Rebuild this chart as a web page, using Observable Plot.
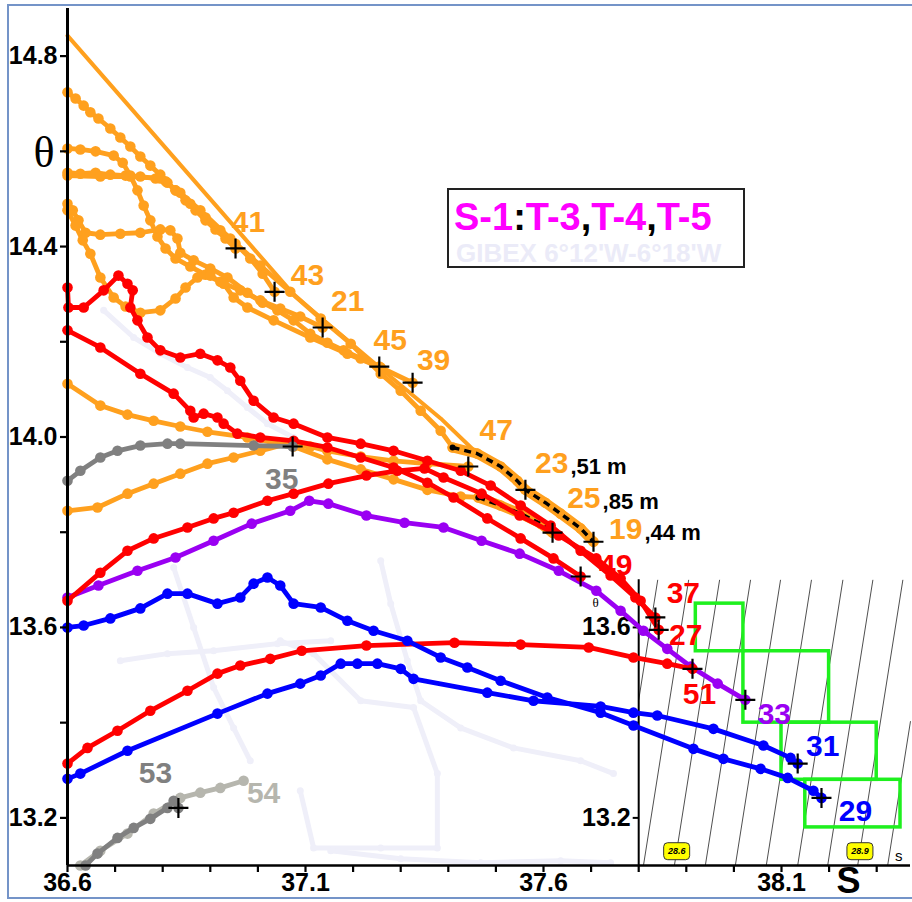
<!DOCTYPE html>
<html>
<head>
<meta charset="utf-8">
<script src="https://cdn.jsdelivr.net/npm/d3@7"></script>
<script src="https://cdn.jsdelivr.net/npm/@observablehq/plot@0.6"></script>
<style>
  body { margin: 0; background: #fff; }
  #wrap { position: relative; width: 912px; height: 902px; overflow: hidden; }
  #frame { position: absolute; left: 7px; top: 4px; width: 940px; height: 891px; border: 2px solid #7494c8; pointer-events: none; }
  #legend { position: absolute; left: 447px; top: 188px; width: 294px; height: 76px; border: 2px solid #222; background: #fff;
            font-family: "Liberation Sans", Arial, sans-serif; font-weight: bold; }
  #legend .l1 { position: absolute; left: 5px; top: 8px; font-size: 38px; line-height: 38px; color: #000; white-space: nowrap; }
  #legend .l1 span { color: #ff00ff; }
  #legend .l2 { position: absolute; left: 7px; top: 50px; font-size: 26px; line-height: 26px; color: #ebebf8; white-space: nowrap; }
</style>
</head>
<body>
<div id="wrap">
  <div id="chart"></div>
  <div id="legend">
    <div class="l1"><span>S-1</span>:<span>T-3</span>,<span>T-4</span>,<span>T-5</span></div>
    <div class="l2">GIBEX 6°12'W-6°18'W</div>
  </div>
  <div id="frame"></div>
</div>
<script>
// ---- θ–S profiles: [salinity, potential temperature] ----
const st41 = [[36.600,14.724],[36.617,14.711],[36.634,14.696],[36.648,14.682],[36.665,14.669],[36.690,14.648],[36.711,14.629],[36.732,14.610],[36.753,14.589],[36.774,14.570],[36.795,14.551],[36.810,14.534],[36.827,14.518],[36.848,14.497],[36.869,14.476],[36.890,14.455],[36.911,14.436],[36.932,14.417],[36.953,14.396]];
const st43 = [[36.600,14.555],[36.627,14.553],[36.659,14.555],[36.690,14.551],[36.722,14.549],[36.753,14.547],[36.785,14.543],[36.806,14.537],[36.827,14.518],[36.858,14.490],[36.890,14.461],[36.921,14.434],[36.953,14.406],[36.984,14.375],[37.010,14.343],[37.035,14.305]];
const st21 = [[36.600,14.606],[36.627,14.604],[36.659,14.600],[36.697,14.591],[36.716,14.576],[36.732,14.549],[36.747,14.518],[36.760,14.486],[36.774,14.455],[36.789,14.421],[36.806,14.396],[36.827,14.375],[36.858,14.358],[36.890,14.341],[36.921,14.326],[36.963,14.308],[37.005,14.287],[37.047,14.270],[37.089,14.253],[37.136,14.230]];
const st45 = [[36.600,14.490],[36.611,14.476],[36.623,14.455],[36.638,14.429],[36.669,14.425],[36.711,14.427],[36.753,14.429],[36.795,14.436],[36.816,14.434],[36.831,14.417],[36.837,14.387],[36.865,14.371],[36.900,14.354],[36.936,14.335],[36.978,14.303],[37.010,14.282],[37.041,14.266],[37.075,14.245],[37.110,14.217],[37.146,14.198],[37.180,14.182],[37.216,14.165],[37.255,14.148]];
const st39 = [[36.600,14.476],[36.617,14.444],[36.632,14.413],[36.648,14.385],[36.669,14.335],[36.697,14.293],[36.722,14.274],[36.753,14.261],[36.795,14.266],[36.827,14.291],[36.848,14.314],[36.873,14.335],[36.900,14.339],[36.928,14.322],[36.949,14.293],[36.978,14.272],[37.033,14.245],[37.110,14.209],[37.188,14.175],[37.258,14.146],[37.325,14.114]];
const st47 = [[36.600,13.845],[36.663,13.852],[36.726,13.881],[36.781,13.902],[36.837,13.923],[36.894,13.944],[36.949,13.957],[37.005,13.971],[37.062,13.986],[37.110,13.980],[37.146,13.971],[37.216,13.959],[37.285,13.950],[37.356,13.944],[37.442,13.938]];
const st23 = [[36.600,14.843],[37.079,14.295],[37.258,14.144],[37.384,14.039],[37.459,13.967],[37.510,13.938],[37.545,13.908],[37.562,13.889]];
const st25 = [[36.600,14.112],[36.669,14.066],[36.726,14.047],[36.781,14.034],[36.837,14.022],[36.894,14.011],[36.978,13.999],[37.075,13.980],[37.146,13.953],[37.216,13.932],[37.285,13.911],[37.356,13.889],[37.426,13.875],[37.463,13.873],[37.510,13.856],[37.552,13.839],[37.594,13.818],[37.619,13.799]];
const st19 = [[36.600,14.549],[36.669,14.547],[36.732,14.547],[36.795,14.543],[36.837,14.513],[36.879,14.476],[36.942,14.417],[37.005,14.360],[37.068,14.305],[37.132,14.249],[37.195,14.196],[37.258,14.133],[37.300,14.097],[37.342,14.055],[37.384,14.013],[37.409,13.978],[37.461,13.965],[37.510,13.938],[37.545,13.908],[37.562,13.889],[37.604,13.862],[37.636,13.839],[37.678,13.808],[37.705,13.780]];
const st37 = [[36.600,14.314],[36.602,14.272],[36.634,14.272],[36.676,14.308],[36.707,14.339],[36.726,14.322],[36.737,14.308],[36.732,14.272],[36.747,14.245],[36.768,14.209],[36.795,14.182],[36.837,14.167],[36.879,14.175],[36.915,14.161],[36.942,14.146],[36.963,14.118],[36.991,14.076],[37.033,14.041],[37.075,14.028],[37.146,13.999],[37.216,13.986],[37.285,13.971],[37.356,13.950],[37.426,13.929],[37.489,13.898],[37.552,13.856],[37.615,13.814],[37.678,13.761],[37.741,13.709],[37.793,13.663],[37.835,13.621]];
const st49 = [[36.600,14.224],[36.669,14.188],[36.753,14.133],[36.823,14.091],[36.858,14.055],[36.865,14.041],[36.886,14.049],[36.915,14.041],[36.928,14.028],[36.957,14.007],[37.005,13.999],[37.075,13.992],[37.146,13.978],[37.216,13.957],[37.285,13.936],[37.356,13.904],[37.411,13.873],[37.482,13.829],[37.552,13.787],[37.621,13.745],[37.678,13.707]];
const st27 = [[36.600,13.656],[36.669,13.715],[36.726,13.761],[36.781,13.787],[36.852,13.810],[36.907,13.829],[36.949,13.841],[37.020,13.866],[37.075,13.881],[37.148,13.902],[37.228,13.919],[37.293,13.929],[37.350,13.934],[37.390,13.915],[37.470,13.881],[37.550,13.835],[37.632,13.793],[37.711,13.745],[37.762,13.703],[37.804,13.656],[37.842,13.595]];
const st51 = [[36.600,13.314],[36.642,13.347],[36.705,13.383],[36.774,13.425],[36.852,13.467],[36.915,13.503],[36.963,13.520],[37.026,13.534],[37.092,13.551],[37.228,13.562],[37.413,13.568],[37.552,13.564],[37.695,13.558],[37.789,13.537],[37.860,13.524],[37.913,13.513]];
const st33 = [[36.600,13.663],[36.665,13.688],[36.747,13.719],[36.827,13.747],[36.907,13.782],[36.987,13.818],[37.068,13.845],[37.108,13.866],[37.148,13.860],[37.228,13.835],[37.308,13.820],[37.390,13.810],[37.470,13.782],[37.550,13.755],[37.632,13.719],[37.711,13.677],[37.762,13.635],[37.810,13.593],[37.860,13.555],[37.909,13.518],[37.966,13.482],[38.024,13.448]];
const st29 = [[36.600,13.600],[36.634,13.604],[36.690,13.619],[36.753,13.640],[36.810,13.671],[36.852,13.671],[36.915,13.650],[36.963,13.663],[36.991,13.692],[37.020,13.705],[37.047,13.688],[37.075,13.650],[37.132,13.642],[37.188,13.614],[37.243,13.593],[37.314,13.572],[37.384,13.537],[37.440,13.516],[37.510,13.488],[37.608,13.453],[37.720,13.421],[37.789,13.394],[37.915,13.345],[37.978,13.324],[38.056,13.303],[38.113,13.284],[38.167,13.257],[38.184,13.242]];
const st31 = [[36.600,13.282],[36.627,13.293],[36.726,13.341],[36.915,13.419],[37.020,13.461],[37.089,13.482],[37.132,13.499],[37.174,13.524],[37.209,13.524],[37.251,13.524],[37.300,13.513],[37.327,13.492],[37.482,13.463],[37.579,13.446],[37.720,13.434],[37.789,13.421],[37.839,13.415],[37.957,13.387],[38.062,13.352],[38.119,13.326],[38.134,13.314]];
const st35 = [[36.600,13.908],[36.627,13.929],[36.669,13.957],[36.705,13.971],[36.753,13.982],[36.810,13.986],[36.837,13.986],[36.991,13.982],[37.073,13.980]];
const st53 = [[36.638,13.100],[36.663,13.125],[36.705,13.158],[36.739,13.179],[36.774,13.198],[36.810,13.221],[36.823,13.236],[36.833,13.221]];
const st54 = [[36.627,13.100],[36.669,13.131],[36.726,13.167],[36.781,13.209],[36.837,13.242],[36.879,13.253],[36.921,13.263],[36.970,13.278]];

// older GIBEX profiles shown faintly underneath
const bg1 = [[36.676,14.266],[36.739,14.209],[36.795,14.175],[36.852,14.146],[36.900,14.125],[36.936,14.097],[36.978,14.062],[37.020,14.028],[37.075,13.999]];
const bg2 = [[36.711,13.530],[36.810,13.545],[36.907,13.551],[37.041,13.566],[37.153,13.572]];
const bg3 = [[36.823,13.726],[36.865,13.600],[36.907,13.474],[36.949,13.389],[36.984,13.320]];
const bg4 = [[37.047,13.572],[37.117,13.545],[37.216,13.446],[37.327,13.432],[37.377,13.293],[37.377,13.137],[37.258,13.137],[37.117,13.137],[37.089,13.257]];
const bg5 = [[37.153,13.131],[37.300,13.114],[37.468,13.106],[37.636,13.110],[37.741,13.106]];
const bg6 = [[37.258,13.740],[37.279,13.650],[37.314,13.530],[37.342,13.446],[37.426,13.389],[37.537,13.347],[37.678,13.320],[37.747,13.293]];

// deepest-sample depths printed next to three station numbers
const depthIds = ["23", "25", "19"];
const depthText = [",51 m", ",85 m", ",44 m"];

// isopycnals (σθ) crossing the inset: salinity where each meets θ = 13.1 and θ = 13.7
const isoSigma   = [28.5, 28.55, 28.6, 28.65, 28.7, 28.75, 28.8, 28.85, 28.9, 28.95];
const isoSBottom = [37.745, 37.810, 37.875, 37.940, 38.003, 38.068, 38.134, 38.197, 38.260, 38.323];
const isoSTop    = [37.840, 37.905, 37.970, 38.035, 38.098, 38.163, 38.229, 38.292, 38.355, 38.418];
const isoLabelled = [28.6, 28.9];

// water-mass boxes
const boxS1 = [37.92, 38.02, 38.10, 38.15];
const boxS2 = [38.02, 38.20, 38.30, 38.35];
const boxT1 = [13.55, 13.40, 13.28, 13.18];
const boxT2 = [13.65, 13.55, 13.40, 13.28];

// axis ticks
const xTicks = [36.6,36.7,36.8,36.9,37.0,37.1,37.2,37.3,37.4,37.5,37.6,37.7,37.8,37.9,38.0,38.1,38.2,38.3];
const xLabelled = [36.6, 37.1, 37.6, 38.1];
const yTicks = [13.2,13.4,13.6,13.8,14.0,14.2,14.4,14.6,14.8];
const yLabelled = [13.2, 13.6, 14.0, 14.4, 14.8];
const insetTicks = [13.2, 13.4, 13.6];
const insetLabelled = [13.2, 13.6];

// ---- styling ----
const orange = "#ffa01e", red = "#ff0000", purple = "#9a00f2", blue = "#0000ff",
      gray = "#808080", lightGray = "#b6b6ae", faint = "#efeff9", green = "#1ef01e";

// draw order: first listed is drawn lowest
const profiles = [
  {id: "41", pts: st41, color: orange},
  {id: "43", pts: st43, color: orange},
  {id: "21", pts: st21, color: orange},
  {id: "45", pts: st45, color: orange},
  {id: "39", pts: st39, color: orange},
  {id: "23", pts: st23, color: orange, bare: true},
  {id: "19", pts: st19, color: orange, dashFrom: 15},
  {id: "25", pts: st25, color: orange, dashFrom: 13},
  {id: "47", pts: st47, color: orange},
  {id: "33", pts: st33, color: purple},
  {id: "51", pts: st51, color: red},
  {id: "49", pts: st49, color: red},
  {id: "37", pts: st37, color: red},
  {id: "27", pts: st27, color: red},
  {id: "31", pts: st31, color: blue},
  {id: "29", pts: st29, color: blue},
  {id: "35", pts: st35, color: gray},
  {id: "54", pts: st54, color: lightGray, noCross: true},
  {id: "53", pts: st53, color: gray}
];

// label offsets (px) from each profile's last sample
const labelAt = {
  "41": [13, -26], "43": [33, -16], "21": [25, -26], "45": [11, -26], "39": [21, -22], "47": [28, -36],
  "49": [35, -11], "37": [28, -24], "27": [27, 6], "51": [7, 26], "33": [29, 15], "31": [25, -17],
  "29": [34, 13], "35": [-11, 33], "53": [-23, -34], "54": [20, 13]
};
const splitAt = {"23": [43, -26], "25": [48, -34], "19": [49, -12]};

const rows = (id, pts) => pts.map(([S, T], i) => ({id, S, T, i}));

// thin cross for the deepest sample of each cast
const cross = {draw(c, size) { const r = Math.sqrt(size / Math.PI); c.moveTo(-r, 0); c.lineTo(r, 0); c.moveTo(0, -r); c.lineTo(0, r); }};
// rounded tag behind isopycnal values
const pill = {draw(c) { const w = 13, h = 8.5, r = 4;
  c.moveTo(-w + r, -h); c.lineTo(w - r, -h); c.arcTo(w, -h, w, -h + r, r); c.lineTo(w, h - r); c.arcTo(w, h, w - r, h, r);
  c.lineTo(-w + r, h); c.arcTo(-w, h, -w, h - r, r); c.lineTo(-w, -h + r); c.arcTo(-w, -h, -w + r, -h, r); c.closePath(); }};
// short tick pointing left
const leftTick = {draw(c) { c.moveTo(-6, 0); c.lineTo(0, 0); }};

const insetTop = 13.7, sMax = 38.371, sInset = 37.8;
const isoSegs = isoSigma.map((sg, k) => {
  const sb = isoSBottom[k], stp = isoSTop[k];
  const thetaAt = S => 13.1 + (S - sb) / (stp - sb) * (insetTop - 13.1);
  let S1 = sb, T1 = 13.1, S2 = stp, T2 = insetTop;
  if (S1 < sInset) { S1 = sInset; T1 = thetaAt(sInset); }
  if (S2 > sMax) { S2 = sMax; T2 = thetaAt(sMax); }
  return {sg, S1, T1, S2, T2, sb, stp};
}).filter(d => d.T1 < d.T2);
const isoTags = isoSegs.filter(d => isoLabelled.includes(d.sg)).map(d => ({
  sg: d.sg, T: 13.13, S: d.sb + (d.stp - d.sb) * (13.13 - 13.1) / (insetTop - 13.1)
}));

const boxes = boxS1.map((s, k) => ({S1: s, S2: boxS2[k], T1: boxT1[k], T2: boxT2[k]}));

const faintRows = [bg1, bg2, bg3, bg4, bg5, bg6].flatMap((p, k) => rows("bg" + k, p));

const labelFont = {fontSize: 30, fontWeight: "bold"};

const marks = [
  Plot.line(faintRows, {x: "S", y: "T", z: "id", stroke: faint, strokeWidth: 5}),
  Plot.dot(faintRows, {x: "S", y: "T", r: 3.5, fill: faint}),
  Plot.link(isoSegs, {x1: "S1", y1: "T1", x2: "S2", y2: "T2", stroke: "#222", strokeWidth: 0.8}),
  Plot.rect(boxes, {x1: "S1", x2: "S2", y1: "T1", y2: "T2", stroke: green, strokeWidth: 3.5, fill: "none"}),
  Plot.dot(isoTags, {x: "S", y: "T", symbol: pill, fill: "#ffff00", stroke: "#333", strokeWidth: 1}),
  Plot.text(isoTags, {x: "S", y: "T", text: d => d.sg.toFixed(1), fontSize: 9, fontStyle: "italic", fontWeight: "bold", fill: "#000"}),
  Plot.ruleX([sInset], {y1: 13.1, y2: insetTop, strokeWidth: 2}),
  Plot.dot(insetTicks, {x: sInset, y: d => d, symbol: leftTick, stroke: "#000", strokeWidth: 2}),
  Plot.text(insetLabelled, {x: sInset, y: d => d, text: d => d.toFixed(1), textAnchor: "end", dx: -8, fontSize: 25, fontWeight: "bold"}),
  Plot.text(["θ"], {x: sInset, y: insetTop, dx: -43, dy: 23, fontSize: 13, fontFamily: "Liberation Serif, serif"})
];

for (const p of profiles) {
  const r = rows(p.id, p.pts);
  if (p.dashFrom != null) {
    marks.push(Plot.line(r.slice(p.dashFrom), {x: "S", y: "T", stroke: p.color, strokeWidth: 10}));
  }
  marks.push(Plot.line(r, {x: "S", y: "T", stroke: p.color, strokeWidth: p.bare ? 4 : 4.8}));
  if (!p.bare) marks.push(Plot.dot(r, {x: "S", y: "T", r: 5.3, fill: p.color}));
  if (p.dashFrom != null) {
    const d = r.slice(p.dashFrom);
    marks.push(Plot.line(d, {x: "S", y: "T", stroke: "#000", strokeWidth: 3.5, strokeDasharray: "7,5", strokeLinecap: "butt"}));
    marks.push(Plot.dot(d.slice(0, 1), {x: "S", y: "T", r: 3, fill: "#000"}));
  }
}

// deepest samples
const ends = profiles.map(p => ({id: p.id, color: p.color, noCross: p.noCross, S: p.pts[p.pts.length - 1][0], T: p.pts[p.pts.length - 1][1]}));
marks.push(Plot.dot(ends.filter(d => !d.noCross), {x: "S", y: "T", symbol: cross, r: 10, stroke: "#000", strokeWidth: 2.2, fill: "none"}));

for (const e of ends) {
  if (labelAt[e.id]) {
    const [dx, dy] = labelAt[e.id];
    marks.push(Plot.text([e], {x: "S", y: "T", text: "id", dx, dy, fill: e.color, ...labelFont}));
  }
  if (splitAt[e.id]) {
    const [dx, dy] = splitAt[e.id];
    const k = depthIds.indexOf(e.id);
    marks.push(Plot.text([e], {x: "S", y: "T", text: "id", dx, dy, textAnchor: "end", fill: e.color, ...labelFont}));
    marks.push(Plot.text([e], {x: "S", y: "T", text: () => depthText[k], dx: dx + 2, dy: dy + 3, textAnchor: "start", fill: "#000", fontSize: 22, fontWeight: "bold"}));
  }
}

marks.push(
  Plot.ruleX([36.6], {strokeWidth: 3}),
  Plot.ruleY([13.1], {strokeWidth: 2.5}),
  Plot.axisX({ticks: xTicks, tickSize: 7, tickPadding: 1, strokeWidth: 2.2, label: null,
              tickFormat: d => xLabelled.includes(d) ? d.toFixed(1) : "", fontSize: 25, fontWeight: "bold"}),
  Plot.axisY({ticks: yTicks, tickSize: 7, tickPadding: 3, strokeWidth: 2.2, label: null,
              tickFormat: d => yLabelled.includes(d) ? d.toFixed(1) : "", fontSize: 25, fontWeight: "bold"}),
  Plot.text(["θ"], {frameAnchor: "top-left", dx: -34, dy: 144, fontSize: 44, fontFamily: "Liberation Serif, DejaVu Serif, serif", lineAnchor: "middle"}),
  Plot.text(["S"], {frameAnchor: "bottom-right", dx: -50, dy: 16, fontSize: 36, fontWeight: "bold", lineAnchor: "middle"}),
  Plot.text(["s"], {frameAnchor: "bottom-right", dx: -8, dy: -9, fontSize: 15, lineAnchor: "middle"})
);

const chart = Plot.plot({
  width: 912,
  height: 902,
  marginLeft: 67,
  marginRight: 2,
  marginTop: 8,
  marginBottom: 37,
  x: {domain: [36.6, sMax]},
  y: {domain: [13.1, 14.9]},
  style: {fontFamily: "Liberation Sans, Arial, sans-serif", background: "#fff", color: "#000", overflow: "visible"},
  marks
});
document.getElementById("chart").appendChild(chart);
</script>
</body>
</html>
